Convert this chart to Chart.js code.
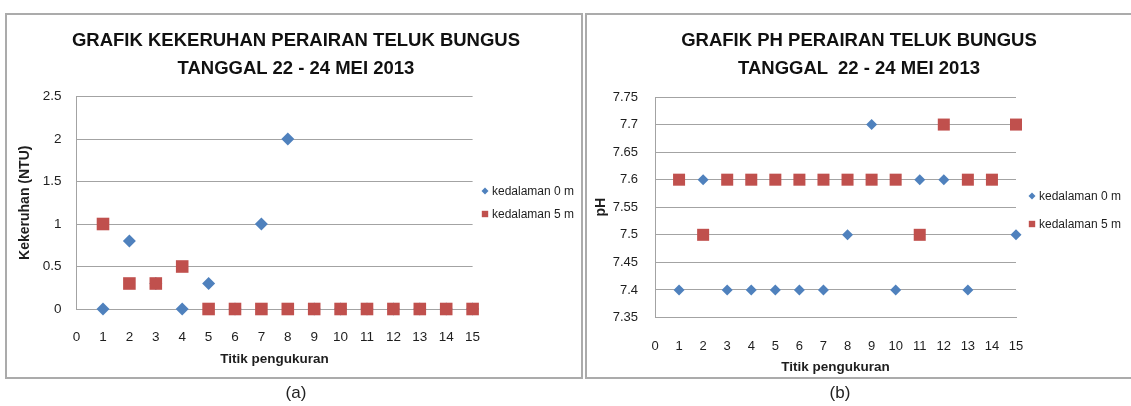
<!DOCTYPE html>
<html>
<head>
<meta charset="utf-8">
<script src="https://cdn.jsdelivr.net/npm/chart.js@4.4.0/dist/chart.umd.min.js"></script>
<style>
  body { margin: 0; background: #fff; width: 1131px; height: 406px; overflow: hidden; position: relative; font-family: "Liberation Sans", Arial, sans-serif; }
  .kotak { position: absolute; border: 2px solid #ababab; box-sizing: border-box; }
  canvas { position: absolute; top: 0; }
  .judul { position: absolute; width: 600px; text-align: center; font-weight: bold; font-size: 18.5px; line-height: 28px; color: #111; white-space: pre; }
  .sub { position: absolute; width: 100px; text-align: center; font-size: 17px; line-height: 20px; color: #222; }
</style>
</head>
<body>
<div class="kotak" style="left:5px; top:13px; width:578px; height:366px;"></div>
<div class="kotak" style="left:585px; top:13px; width:560px; height:366px;"></div>

<canvas id="chartKeruh" width="584" height="406" style="left:0px;"></canvas>
<canvas id="chartPh" width="547" height="406" style="left:584px;"></canvas>

<div class="judul" style="left:-4px; top:26px;">GRAFIK KEKERUHAN PERAIRAN TELUK BUNGUS
TANGGAL 22 - 24 MEI 2013</div>
<div class="judul" style="left:559px; top:26px;">GRAFIK PH PERAIRAN TELUK BUNGUS
TANGGAL  22 - 24 MEI 2013</div>

<div class="sub" style="left:246px; top:383px;">(a)</div>
<div class="sub" style="left:790px; top:383px;">(b)</div>

<script>
// data titik pengukuran
const titik = [1, 2, 3, 4, 5, 6, 7, 8, 9, 10, 11, 12, 13, 14, 15];
const xTicks = [0, 1, 2, 3, 4, 5, 6, 7, 8, 9, 10, 11, 12, 13, 14, 15];

// kekeruhan (NTU)
const keruh0m = [0, 0.8, 0.3, 0, 0.3, 0, 1, 2, 0, 0, 0, 0, 0, 0, 0];
const keruh5m = [1, 0.3, 0.3, 0.5, 0, 0, 0, 0, 0, 0, 0, 0, 0, 0, 0];
const yTicksKeruh = [0, 0.5, 1, 1.5, 2, 2.5];

// pH
const ph0m = [7.4, 7.6, 7.4, 7.4, 7.4, 7.4, 7.4, 7.5, 7.7, 7.4, 7.6, 7.6, 7.4, 7.6, 7.5];
const ph5m = [7.6, 7.5, 7.6, 7.6, 7.6, 7.6, 7.6, 7.6, 7.6, 7.6, 7.5, 7.7, 7.6, 7.6, 7.7];
const yTicksPh = [7.35, 7.4, 7.45, 7.5, 7.55, 7.6, 7.65, 7.7, 7.75];

const BIRU = '#4f81bd';
const MERAH = '#c0504d';
const ABU = '#a3a3a3';
const TEKS = '#1e1e1e';

const toPoints = (arr) => arr.map((v, i) => ({ x: titik[i], y: v }));

// legenda kecil di kanan plot
const legendKecil = {
    id: 'legendKecil',
    afterDraw(chart, args, opts) {
        const ctx = chart.ctx;
        ctx.save();
        chart.data.datasets.forEach((ds, i) => {
            const y = opts.y[i];
            ctx.fillStyle = ds.backgroundColor;
            ctx.beginPath();
            if (ds.pointStyle === 'rectRot') {
                ctx.moveTo(opts.x, y - 3.5);
                ctx.lineTo(opts.x + 3.5, y);
                ctx.lineTo(opts.x, y + 3.5);
                ctx.lineTo(opts.x - 3.5, y);
                ctx.closePath();
            } else {
                ctx.rect(opts.x - 3.2, y - 3.2, 6.4, 6.4);
            }
            ctx.fill();
            ctx.fillStyle = TEKS;
            ctx.font = '12px "Liberation Sans"';
            ctx.textBaseline = 'middle';
            ctx.fillText(ds.label, opts.x + 7, y + 0.5);
        });
        ctx.restore();
    }
};

function buatGrafik(id, cfg) {
    new Chart(document.getElementById(id), {
        type: 'scatter',
        data: {
            datasets: [
                {
                    label: 'kedalaman 0 m',
                    data: toPoints(cfg.seri0),
                    pointStyle: 'rectRot',
                    pointRadius: cfg.rBiru,
                    backgroundColor: BIRU,
                    borderColor: BIRU,
                    borderWidth: 0,
                    order: 1,
                    clip: false
                },
                {
                    label: 'kedalaman 5 m',
                    data: toPoints(cfg.seri5),
                    pointStyle: 'rect',
                    pointRadius: cfg.rMerah,
                    backgroundColor: MERAH,
                    borderColor: MERAH,
                    borderWidth: 0,
                    order: 0,
                    clip: false
                }
            ]
        },
        options: {
            responsive: false,
            animation: false,
            events: [],
            layout: { padding: cfg.padding },
            plugins: {
                legend: { display: false },
                tooltip: { enabled: false },
                legendKecil: cfg.legend
            },
            scales: {
                x: {
                    type: 'linear',
                    min: 0,
                    max: 15,
                    afterBuildTicks: (s) => { s.ticks = xTicks.map(v => ({ value: v })); },
                    afterFit: (s) => { s.height = 60; },
                    grid: { display: false, drawTicks: false },
                    border: { display: true, color: ABU, width: 1 },
                    ticks: { padding: cfg.xPad, color: TEKS, font: { family: 'Liberation Sans', size: cfg.tickSize }, maxRotation: 0, autoSkip: false },
                    title: {
                        display: true,
                        text: 'Titik pengukuran',
                        color: TEKS,
                        font: { family: 'Liberation Sans', size: 13.5, weight: 'bold' },
                        padding: { top: 0, bottom: cfg.xTitlePad }
                    }
                },
                y: {
                    type: 'linear',
                    min: cfg.yTicks[0],
                    max: cfg.yTicks[cfg.yTicks.length - 1],
                    afterBuildTicks: (s) => { s.ticks = cfg.yTicks.map(v => ({ value: v })); },
                    afterFit: (s) => { s.width = cfg.yWidth; },
                    grid: { color: ABU, lineWidth: 1, drawTicks: false },
                    border: { display: true, color: ABU, width: 1 },
                    ticks: { padding: cfg.yPad, color: TEKS, font: { family: 'Liberation Sans', size: cfg.tickSize }, callback: (v) => String(v) },
                    title: {
                        display: true,
                        text: cfg.yJudul,
                        color: TEKS,
                        font: { family: 'Liberation Sans', size: 14, weight: 'bold' },
                        padding: { top: cfg.yTitlePad, bottom: 0 }
                    }
                }
            }
        },
        plugins: [legendKecil]
    });
}

document.addEventListener('DOMContentLoaded', () => {
    // Grafik (a) kekeruhan
    buatGrafik('chartKeruh', {
        seri0: keruh0m,
        seri5: keruh5m,
        yTicks: yTicksKeruh,
        yJudul: 'Kekeruhan (NTU)',
        rBiru: 6.5,
        rMerah: 8.9,
        tickSize: 13.5,
        padding: { left: 0, top: 96.5, right: 111.4, bottom: 37 },
        yWidth: 76.6,
        yPad: 15,
        xPad: 20,
        yTitlePad: 16.6,
        xTitlePad: 1.9,
        legend: { x: 485, y: [191, 214] }
    });

    // Grafik (b) pH
    buatGrafik('chartPh', {
        seri0: ph0m,
        seri5: ph5m,
        yTicks: yTicksPh,
        yJudul: 'pH',
        rBiru: 5.5,
        rMerah: 8.5,
        tickSize: 13,
        padding: { left: 0, top: 97, right: 115, bottom: 28.5 },
        yWidth: 71,
        yPad: 17,
        xPad: 21.5,
        yTitlePad: 8.6,
        xTitlePad: 2.4,
        legend: { x: 448, y: [196, 224] }
    });
});
</script>
</body>
</html>
